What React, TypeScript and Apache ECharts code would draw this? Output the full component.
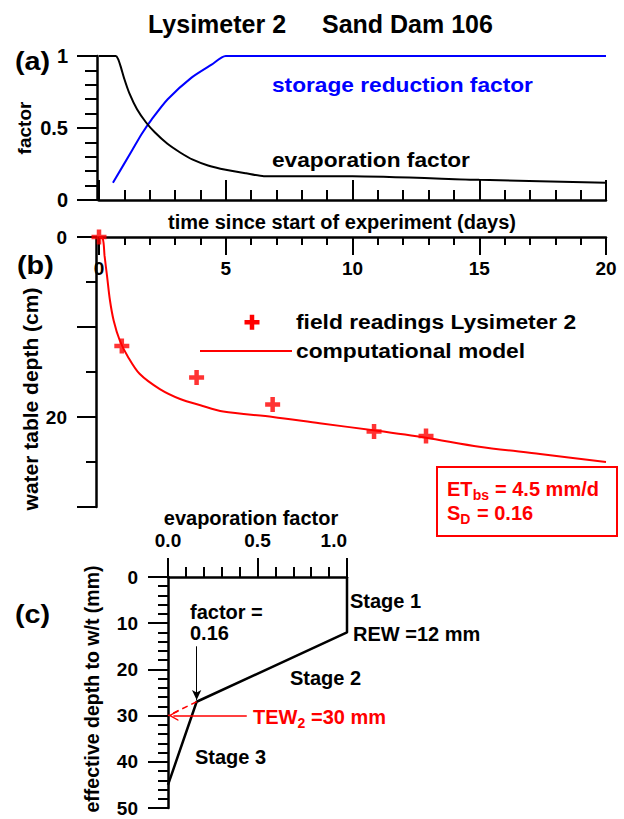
import React, { useEffect, useRef } from 'react';
import * as echarts from 'echarts';

// ---------- data ----------
// panel (a)
const storageDays = [0.55, 1.29, 1.69, 2.08, 2.71, 3.65, 4.44, 5.0, 20];
const storageFactor = [0.12, 0.34, 0.46, 0.56, 0.7, 0.85, 0.94, 1.0, 1.0];
const evapDays = [0, 0.66, 0.75, 0.85, 1.0, 1.2, 1.5, 1.85, 2.2, 2.7, 3.2, 3.7, 4.3, 5.0, 5.8, 6.5, 10, 15, 20];
const evapFactor = [1, 1, 0.98, 0.93, 0.84, 0.74, 0.63, 0.54, 0.47, 0.39, 0.33, 0.28, 0.24, 0.21, 0.185, 0.165, 0.165, 0.14, 0.12];
const factorTicks = [0, 0.5, 1];

// panel (b)
const modelDays = [0, 0.15, 0.22, 0.32, 0.43, 0.58, 0.82, 1.14, 1.6, 2.4, 3.2, 4.0, 4.9, 6.86, 8.7, 10.9, 12.9, 15.0, 17.4, 20];
const modelDepth = [0, 0.2, 2.1, 4.4, 7.0, 9.3, 11.5, 13.3, 15.2, 16.9, 18.0, 18.7, 19.4, 20.0, 20.7, 21.5, 22.3, 23.3, 24.1, 25.0];
const fieldDays = [0, 0.9, 3.85, 6.85, 10.85, 12.9];
const fieldDepth = [0, 12.1, 15.6, 18.6, 21.6, 22.1];
const depthLabels = [0, 20];

// panel (c)
const stageFactor = [1, 1, 0.16, 0];
const stageDepth = [0, 12, 27, 45];
const tewFactor = [0.16, 0];
const tewDepth = [27, 30];
const factorArrow = { factor: 0.16, from: 15, to: 26.6 };
const tewArrow = { from: 0.44, to: 0.03, depth: 30 };

// ---------- helpers ----------
const FONT = '"Liberation Sans", Arial, Helvetica, sans-serif';
const RED = '#ff0000';
const BLUE = '#0000ff';

const pairs = (xs: number[], ys: number[]) => xs.map((x, i) => [x, ys[i]]);

function txt(x: number, y: number, text: string, o: any = {}) {
  return {
    type: 'text',
    x,
    y,
    rotation: o.rotation || 0,
    scaleX: o.scaleX || 1,
    z: 100,
    silent: true,
    style: {
      text,
      x: 0,
      y: 0,
      fill: o.color || '#000',
      fontSize: o.size || 20,
      fontWeight: o.weight || 'bold',
      fontFamily: FONT,
      textAlign: o.align || 'left',
      align: o.align || 'left',
      textVerticalAlign: 'middle',
      verticalAlign: 'middle',
    },
  };
}

const axisLine = { show: true, onZero: false, lineStyle: { color: '#000', width: 2.5 } };
const tickLine = { color: '#000', width: 2 };
const labelBase = { fontFamily: FONT, fontWeight: 'bold', color: '#000' };

const plusPath = 'path://M3.5,0H6.5V3.5H10V6.5H6.5V10H3.5V6.5H0V3.5H3.5Z';
const chevronPath = 'path://M0,10L5,0L10,10L8.6,10L5,2.8L1.4,10Z';

export default function App() {
  const ref = useRef<HTMLDivElement>(null);

  useEffect(() => {
    if (!ref.current) return;
    const chart = echarts.init(ref.current, null, { renderer: 'svg' });

    const option: any = {
      animation: false,
      backgroundColor: '#fff',
      textStyle: { fontFamily: FONT },
      grid: [
        { left: 99, top: 56, width: 507, height: 144, outerBoundsMode: 'none' },
        { left: 99, top: 237, width: 507, height: 270, outerBoundsMode: 'none' },
        { left: 168, top: 577, width: 179, height: 231, outerBoundsMode: 'none' },
      ],
      xAxis: [
        {
          gridIndex: 0,
          type: 'value',
          min: 0,
          max: 20,
          interval: 5,
          position: 'bottom',
          axisLine,
          axisTick: { show: true, inside: true, length: 20, lineStyle: tickLine },
          minorTick: { show: true, splitNumber: 5, length: 10, lineStyle: tickLine },
          axisLabel: { show: false },
          splitLine: { show: false },
          minorSplitLine: { show: false },
        },
        {
          gridIndex: 1,
          type: 'value',
          min: 0,
          max: 20,
          interval: 5,
          position: 'top',
          axisLine,
          axisTick: { show: true, inside: true, length: 18, lineStyle: tickLine },
          minorTick: { show: true, splitNumber: 5, length: 8, lineStyle: tickLine },
          axisLabel: { ...labelBase, show: true, inside: true, margin: 22, fontSize: 19 },
          splitLine: { show: false },
          minorSplitLine: { show: false },
        },
        {
          gridIndex: 2,
          type: 'value',
          min: 0,
          max: 1,
          interval: 0.5,
          position: 'top',
          axisLine,
          axisTick: { show: true, inside: false, length: 19, lineStyle: tickLine },
          minorTick: { show: true, splitNumber: 5, length: 10, lineStyle: tickLine },
          axisLabel: {
            ...labelBase,
            show: true,
            margin: 27,
            fontSize: 19,
            alignMaxLabel: 'right',
            formatter: (v: number) => v.toFixed(1),
          },
          splitLine: { show: false },
          minorSplitLine: { show: false },
        },
      ],
      yAxis: [
        {
          gridIndex: 0,
          type: 'value',
          min: 0,
          max: 1,
          interval: 0.5,
          offset: 2,
          axisLine,
          axisTick: { show: true, inside: false, length: 20, lineStyle: tickLine },
          minorTick: { show: true, splitNumber: 5, length: 12, lineStyle: tickLine },
          axisLabel: {
            ...labelBase,
            show: true,
            margin: 29,
            fontSize: 20,
            formatter: (v: number) => (factorTicks.indexOf(v) >= 0 ? String(v) : ''),
          },
          splitLine: { show: false },
          minorSplitLine: { show: false },
        },
        {
          gridIndex: 1,
          type: 'value',
          min: 0,
          max: 30,
          interval: 10,
          inverse: true,
          offset: 3,
          axisLine,
          axisTick: { show: true, inside: false, length: 19, lineStyle: tickLine },
          minorTick: { show: true, splitNumber: 2, length: 10, lineStyle: tickLine },
          axisLabel: {
            ...labelBase,
            show: true,
            margin: 29,
            fontSize: 19,
            formatter: (v: number) => (depthLabels.indexOf(v) >= 0 ? String(v) : ''),
          },
          splitLine: { show: false },
          minorSplitLine: { show: false },
        },
        {
          gridIndex: 2,
          type: 'value',
          min: 0,
          max: 50,
          interval: 10,
          inverse: true,
          axisLine,
          axisTick: { show: true, inside: false, length: 20, lineStyle: tickLine },
          minorTick: { show: true, splitNumber: 5, length: 10, lineStyle: tickLine },
          axisLabel: { ...labelBase, show: true, margin: 30, fontSize: 19 },
          splitLine: { show: false },
          minorSplitLine: { show: false },
        },
      ],
      series: [
        {
          name: 'storage reduction factor',
          type: 'line',
          xAxisIndex: 0,
          yAxisIndex: 0,
          data: pairs(storageDays, storageFactor),
          symbol: 'none',
          smooth: 0.25,
          lineStyle: { color: BLUE, width: 2 },
          z: 3,
        },
        {
          name: 'evaporation factor',
          type: 'line',
          xAxisIndex: 0,
          yAxisIndex: 0,
          data: pairs(evapDays, evapFactor),
          symbol: 'none',
          smooth: 0.2,
          lineStyle: { color: '#000', width: 2 },
          z: 3,
        },
        {
          name: 'computational model',
          type: 'line',
          xAxisIndex: 1,
          yAxisIndex: 1,
          data: pairs(modelDays, modelDepth),
          symbol: 'none',
          smooth: 0.3,
          lineStyle: { color: RED, width: 2 },
          z: 3,
        },
        {
          name: 'field readings Lysimeter 2',
          type: 'scatter',
          xAxisIndex: 1,
          yAxisIndex: 1,
          data: pairs(fieldDays, fieldDepth),
          symbol: plusPath,
          symbolSize: 15,
          clip: false,
          itemStyle: { color: RED },
          z: 4,
        },
        {
          name: 'stages',
          type: 'line',
          xAxisIndex: 2,
          yAxisIndex: 2,
          data: pairs(stageFactor, stageDepth),
          symbol: 'none',
          clip: false,
          lineStyle: { color: '#000', width: 2.5 },
          z: 3,
          markLine: {
            silent: true,
            animation: false,
            symbol: ['none', 'arrow'],
            symbolSize: [7, 10],
            label: { show: false },
            lineStyle: { color: '#000', width: 1, type: 'solid' },
            data: [
              [
                { coord: [factorArrow.factor, factorArrow.from] },
                { coord: [factorArrow.factor, factorArrow.to] },
              ],
            ],
          },
        },
        {
          name: 'TEW2',
          type: 'line',
          xAxisIndex: 2,
          yAxisIndex: 2,
          data: pairs(tewFactor, tewDepth),
          symbol: 'none',
          clip: false,
          lineStyle: { color: RED, width: 1.5, type: [6, 4] },
          z: 3,
          markLine: {
            silent: true,
            animation: false,
            symbol: ['none', chevronPath],
            symbolSize: [11, 10],
            label: { show: false },
            lineStyle: { color: RED, width: 1.5, type: 'solid' },
            itemStyle: { color: RED },
            data: [
              [
                { coord: [tewArrow.from, tewArrow.depth] },
                { coord: [tewArrow.to, tewArrow.depth] },
              ],
            ],
          },
        },
      ],
      graphic: [
        // title
        txt(148, 24, 'Lysimeter 2', { size: 25 }),
        txt(322, 24, 'Sand Dam 106', { size: 25 }),
        // panel labels
        txt(15, 62, '(a)', { size: 25, scaleX: 1.15 }),
        txt(17, 266, '(b)', { size: 25, scaleX: 1.15 }),
        txt(15, 615, '(c)', { size: 25, scaleX: 1.15 }),
        // panel (a)
        txt(24, 128, 'factor', { size: 19, align: 'center', rotation: Math.PI / 2 }),
        txt(272, 85, 'storage reduction factor', { size: 20, color: BLUE, scaleX: 1.135 }),
        txt(272, 160, 'evaporation factor', { size: 20, scaleX: 1.135 }),
        txt(342, 222, 'time since start of experiment (days)', { size: 20, align: 'center' }),
        // panel (b)
        txt(30, 399, 'water table depth (cm)', { size: 21, align: 'center', rotation: Math.PI / 2 }),
        { type: 'rect', z: 100, silent: true, shape: { x: 244.5, y: 320, width: 15, height: 4.5 }, style: { fill: RED } },
        { type: 'rect', z: 100, silent: true, shape: { x: 249.75, y: 314.75, width: 4.5, height: 15 }, style: { fill: RED } },
        txt(296, 322, 'field readings Lysimeter 2', { size: 21, scaleX: 1.085 }),
        { type: 'line', z: 100, silent: true, shape: { x1: 200, y1: 351, x2: 292, y2: 351 }, style: { stroke: RED, lineWidth: 2 } },
        txt(296, 351, 'computational model', { size: 21, scaleX: 1.085 }),
        {
          type: 'rect',
          z: 100,
          silent: true,
          shape: { x: 437, y: 467, width: 180, height: 69 },
          style: { fill: 'none', stroke: RED, lineWidth: 2 },
        },
        txt(447, 489, 'ET', { color: RED }),
        txt(472.7, 495, 'bs', { color: RED, size: 14 }),
        txt(495, 489, '= 4.5 mm/d', { color: RED }),
        txt(447, 513, 'S', { color: RED }),
        txt(460.3, 519, 'D', { color: RED, size: 14 }),
        txt(477, 513, '= 0.16', { color: RED }),
        // panel (c)
        txt(251, 518, 'evaporation factor', { size: 20, align: 'center' }),
        txt(92, 689, 'effective depth to w/t (mm)', { size: 19.5, align: 'center', rotation: Math.PI / 2 }),
        txt(190, 612, 'factor =', { size: 20 }),
        txt(190, 633, '0.16', { size: 20 }),
        txt(350, 601, 'Stage 1', { size: 20 }),
        txt(353, 634, 'REW =12 mm', { size: 20 }),
        txt(290, 678, 'Stage 2', { size: 20 }),
        txt(195, 757, 'Stage 3', { size: 20 }),
        txt(253, 717, 'TEW', { color: RED }),
        txt(297.5, 723, '2', { color: RED, size: 14 }),
        txt(311, 717, '=30 mm', { color: RED }),
      ],
    };

    chart.setOption(option);
    return () => chart.dispose();
  }, []);

  return (
    <div
      ref={ref}
      style={{ position: 'absolute', left: 0, top: 0, width: 624, height: 819, background: '#fff' }}
    />
  );
}
